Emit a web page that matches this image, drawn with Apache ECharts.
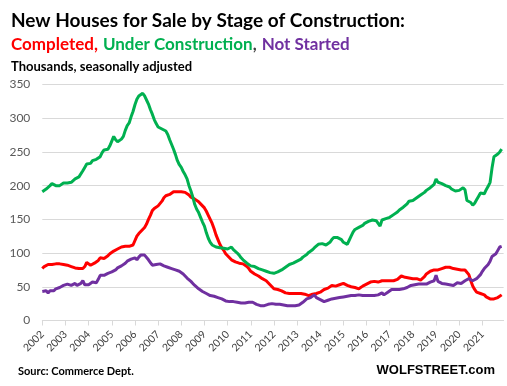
<!DOCTYPE html>
<html><head><meta charset="utf-8">
<script src="https://cdn.jsdelivr.net/npm/echarts@6/dist/echarts.min.js"></script>
<style>html,body{margin:0;padding:0;background:#fff}#c{width:507px;height:386px}</style>
</head><body><div id="c"></div>
<script>
// Year tick labels
var years = ['2002','2003','2004','2005','2006','2007','2008','2009','2010','2011','2012','2013','2014','2015','2016','2017','2018','2019','2020','2021'];
// Monthly, Jan 2002 - Nov 2021, thousands, SA
var underConstruction = [
191,193,195,197,200,203,201,200,199,200,202,204,
205,204,203,205,207,210,212,213,215,222,227,232,
231,233,237,238,239,237,243,249,253,253,254,259,
266,273,268,265,267,269,273,282,289,293,302,310,
320,328,333,335,337,333,327,321,313,306,298,292,
287,285,284,283,281,276,268,261,254,246,237,231,
227,221,216,210,200,192,183,172,165,160,153,146,
140,130,122,116,112,110,109,108,108,107,107,106,
106,108,109,105,103,100,97,93,90,88,85,83,
81,80,80,79,77,76,75,74,73,72,71,70,
70,71,72,73,75,77,79,81,83,84,85,87,
88,89,91,94,96,98,101,103,105,108,110,113,
115,114,113,112,114,116,120,123,124,123,121,120,
116,114,113,119,125,131,135,137,138,139,141,144,
146,147,148,149,147,148,149,140,149,150,151,152,
153,155,157,159,161,164,166,168,170,173,177,178,
178,180,182,184,186,188,190,193,195,197,199,202,
210,205,204,203,201,200,200,198,195,194,192,191,
193,195,197,194,178,177,175,171,174,179,184,189,
190,188,194,199,205,226,243,245,247,250,254
];
var completed = [
77,80,82,83,84,83,83,84,85,84,83,83,
83,82,81,80,79,78,77,77,76,77,80,86,
88,82,84,85,87,89,93,92,92,94,96,99,
101,103,104,106,107,109,109,110,110,110,111,112,
114,125,129,132,130,138,143,150,156,163,166,167,
170,172,177,182,185,186,187,188,191,193,191,191,
191,190,190,188,186,183,181,180,178,176,173,171,
167,162,156,150,144,136,127,120,113,108,104,99,
96,93,90,88,87,86,85,85,84,83,80,77,
73,71,69,67,66,64,62,61,59,56,53,50,
47,46,46,45,44,42,41,40,40,40,40,40,
40,40,40,40,39,38,37,38,39,40,40,41,
42,44,46,47,48,50,52,52,51,52,53,55,
55,54,52,51,50,49,49,48,47,49,51,53,
54,56,57,57,58,57,57,58,59,59,59,59,
59,59,59,60,61,63,66,65,64,63,63,63,
62,62,62,61,60,62,65,69,71,73,75,75,
75,75,76,77,78,79,79,79,78,77,77,76,
75,75,74,75,74,68,59,51,46,42,41,40,
39,38,35,33,32,32,32,33,34,36,38
];
var notStarted = [
43,45,44,41,44,42,44,47,48,49,51,52,
53,54,55,52,54,55,52,51,55,59,53,52,
53,54,57,58,56,61,67,66,67,69,70,71,
72,73,75,78,80,81,83,85,88,89,91,93,
93,90,94,97,99,97,95,90,86,82,80,83,
84,84,83,81,80,79,78,77,76,75,74,73,
71,69,66,63,61,58,55,52,50,47,45,43,
41,40,38,37,37,36,35,34,33,32,31,29,
30,28,28,28,27,27,26,26,27,26,26,27,
28,27,26,24,23,22,21,22,23,24,26,25,
24,24,25,24,24,23,22,22,22,22,22,22,
23,23,24,27,29,32,33,34,36,38,34,32,
31,29,28,29,30,31,32,33,33,34,34,35,
35,36,36,37,37,37,37,38,38,37,37,37,
37,36,37,37,37,37,38,39,41,38,39,42,
44,46,46,46,46,46,47,47,48,49,51,52,
52,53,53,54,53,54,55,54,56,57,58,59,
67,58,56,55,54,54,54,53,53,52,54,56,
54,55,56,59,61,62,61,59,60,62,64,68,
73,77,79,83,88,95,97,99,104,109,110
];
var yTicks = {min:0, max:350, step:50};

var months = [];
years.forEach(function(y){ for (var m=1;m<=12;m++) months.push(y + '-' + (m<10?'0':'') + m); });

var chart = echarts.init(document.getElementById('c'), null, {renderer:'canvas'});
var font = 'Lato, "Open Sans", sans-serif';
chart.setOption({
  animation:false,
  backgroundColor:'#fff',
  title:[
    {text:'New Houses for Sale by Stage of Construction:', left:6, top:6,
     textStyle:{fontFamily:font, fontWeight:'bold', fontSize:19, color:'#000'}},
    {text:'{r|Completed,} {g|Under Construction}{k|,} {p|Not Started}', left:6, top:31,
     textStyle:{rich:{
       r:{color:'#FF0000', fontFamily:font, fontSize:17},
       g:{color:'#00B050', fontFamily:font, fontSize:17},
       k:{color:'#404040', fontFamily:font, fontSize:17},
       p:{color:'#7030A0', fontFamily:font, fontSize:17}}}},
    {text:'Thousands, seasonally adjusted', left:6, top:55,
     textStyle:{fontFamily:font, fontWeight:'bold', fontSize:13, color:'#000'}},
    {text:'Sourc: Commerce Dept.', left:13, top:361,
     textStyle:{fontFamily:font, fontWeight:'bold', fontSize:11, color:'#000'}},
    {text:'WOLFSTREET.com', right:7, top:359,
     textStyle:{fontFamily:'"Liberation Sans", Arial, sans-serif', fontWeight:'bold', fontSize:13, color:'#000'}}
  ],
  grid:{left:42.3, right:3.4, top:84.5, bottom:65.5, containLabel:false},
  xAxis:{
    type:'category', data:months, boundaryGap:false,
    axisLine:{lineStyle:{color:'#D9D9D9', width:1}},
    axisTick:{show:true, length:5, lineStyle:{color:'#D9D9D9'}, interval:function(i){return i%12===0;}},
    axisLabel:{interval:function(i){return i%12===0;}, rotate:45, margin:12,
      formatter:function(v){return v.slice(0,4);},
      fontFamily:font, fontSize:10.5, color:'#404040'},
    splitLine:{show:false}
  },
  yAxis:{
    type:'value', min:yTicks.min, max:yTicks.max, interval:yTicks.step,
    axisLine:{show:false}, axisTick:{show:false},
    axisLabel:{fontFamily:font, fontSize:12, color:'#595959', margin:12},
    splitLine:{lineStyle:{color:'#D9D9D9', width:1}}
  },
  series:[
    {name:'Completed', type:'line', data:completed, showSymbol:false, lineStyle:{color:'#FF0000', width:3}, itemStyle:{color:'#FF0000'}},
    {name:'Under Construction', type:'line', data:underConstruction, showSymbol:false, lineStyle:{color:'#00B050', width:3}, itemStyle:{color:'#00B050'}},
    {name:'Not Started', type:'line', data:notStarted, showSymbol:false, lineStyle:{color:'#7030A0', width:3}, itemStyle:{color:'#7030A0'}}
  ]
});
</script></body></html>
